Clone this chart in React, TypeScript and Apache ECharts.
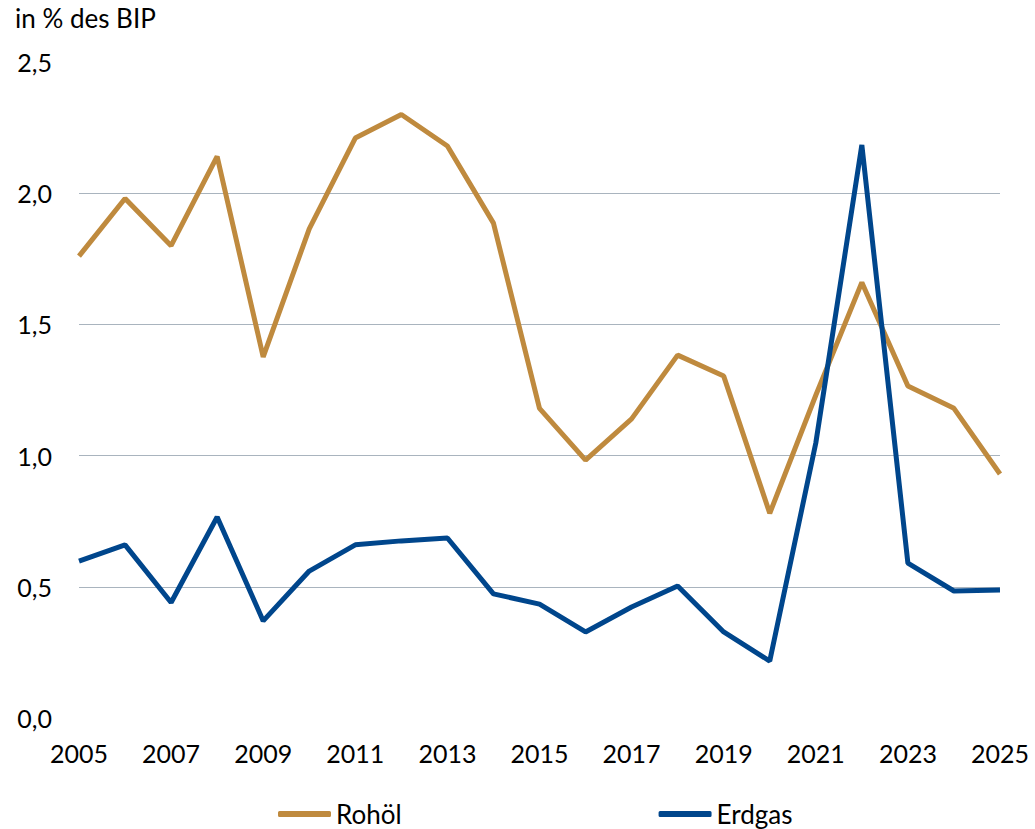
import React, { useEffect, useRef } from "react";
import * as echarts from "echarts";

const years = ["2005","2006","2007","2008","2009","2010","2011","2012","2013","2014","2015","2016","2017","2018","2019","2020","2021","2022","2023","2024","2025"];
const rohoel = [1.76,1.98,1.80,2.14,1.376,1.864,2.21,2.30,2.18,1.886,1.18,0.983,1.14,1.383,1.303,0.78,1.23,1.66,1.265,1.18,0.93];
const erdgas = [0.598,0.66,0.44,0.766,0.37,0.56,0.66,0.675,0.686,0.473,0.434,0.328,0.423,0.503,0.328,0.217,1.048,2.184,0.59,0.484,0.488];
const yTicks = [0, 0.5, 1.0, 1.5, 2.0, 2.5];

const FONT = "Lato, 'Noto Sans', sans-serif";

export default function App() {
  const ref = useRef<HTMLDivElement>(null);
  useEffect(() => {
    if (!ref.current) return;
    const chart = echarts.init(ref.current, null, { renderer: "svg" });
    chart.setOption({
      animation: false,
      backgroundColor: "#ffffff",
      textStyle: { fontFamily: FONT },
      graphic: [
        { type: "text", left: 15, top: 5, style: { text: "in % des BIP", fontSize: 26, fontFamily: FONT, fill: "#000" } },
      ],
      grid: { left: 79, right: 35, top: 62, bottom: 111, containLabel: false },
      legend: {
        bottom: -3,
        left: 273,
        itemGap: 257,
        itemWidth: 53,
        itemHeight: 6,
        icon: "roundRect",
        textStyle: { fontSize: 26, fontFamily: FONT, color: "#000" },
        data: ["Rohöl", "Erdgas"],
      },
      xAxis: {
        type: "category",
        data: years,
        boundaryGap: false,
        axisLine: { show: false },
        axisTick: { show: false },
        axisLabel: {
          interval: 1,
          margin: 22,
          fontSize: 25,
          color: "#000",
          fontFamily: FONT,
          showMaxLabel: true,
        },
        splitLine: { show: false },
      },
      yAxis: {
        type: "value",
        min: yTicks[0],
        max: yTicks[yTicks.length - 1],
        interval: 0.5,
        axisLine: { show: false },
        axisTick: { show: false },
        axisLabel: {
          margin: 27,
          fontSize: 25,
          color: "#000",
          fontFamily: FONT,
          formatter: (v: number) => v.toFixed(1).replace(".", ","),
        },
        splitLine: {
          show: true,
          lineStyle: { color: "#A9B4BE", width: 1 },
          showMinLine: false,
          showMaxLine: false,
        },
      },
      series: [
        {
          name: "Rohöl",
          type: "line",
          data: rohoel,
          symbol: "none",
          lineStyle: { color: "#BF8A3E", width: 5 },
          itemStyle: { color: "#BF8A3E" },
        },
        {
          name: "Erdgas",
          type: "line",
          data: erdgas,
          symbol: "none",
          lineStyle: { color: "#00468C", width: 5 },
          itemStyle: { color: "#00468C" },
        },
      ],
    });
    return () => chart.dispose();
  }, []);
  return (
    <div
      ref={ref}
      style={{ position: "absolute", left: 0, top: 0, width: 1035, height: 829 }}
    />
  );
}
